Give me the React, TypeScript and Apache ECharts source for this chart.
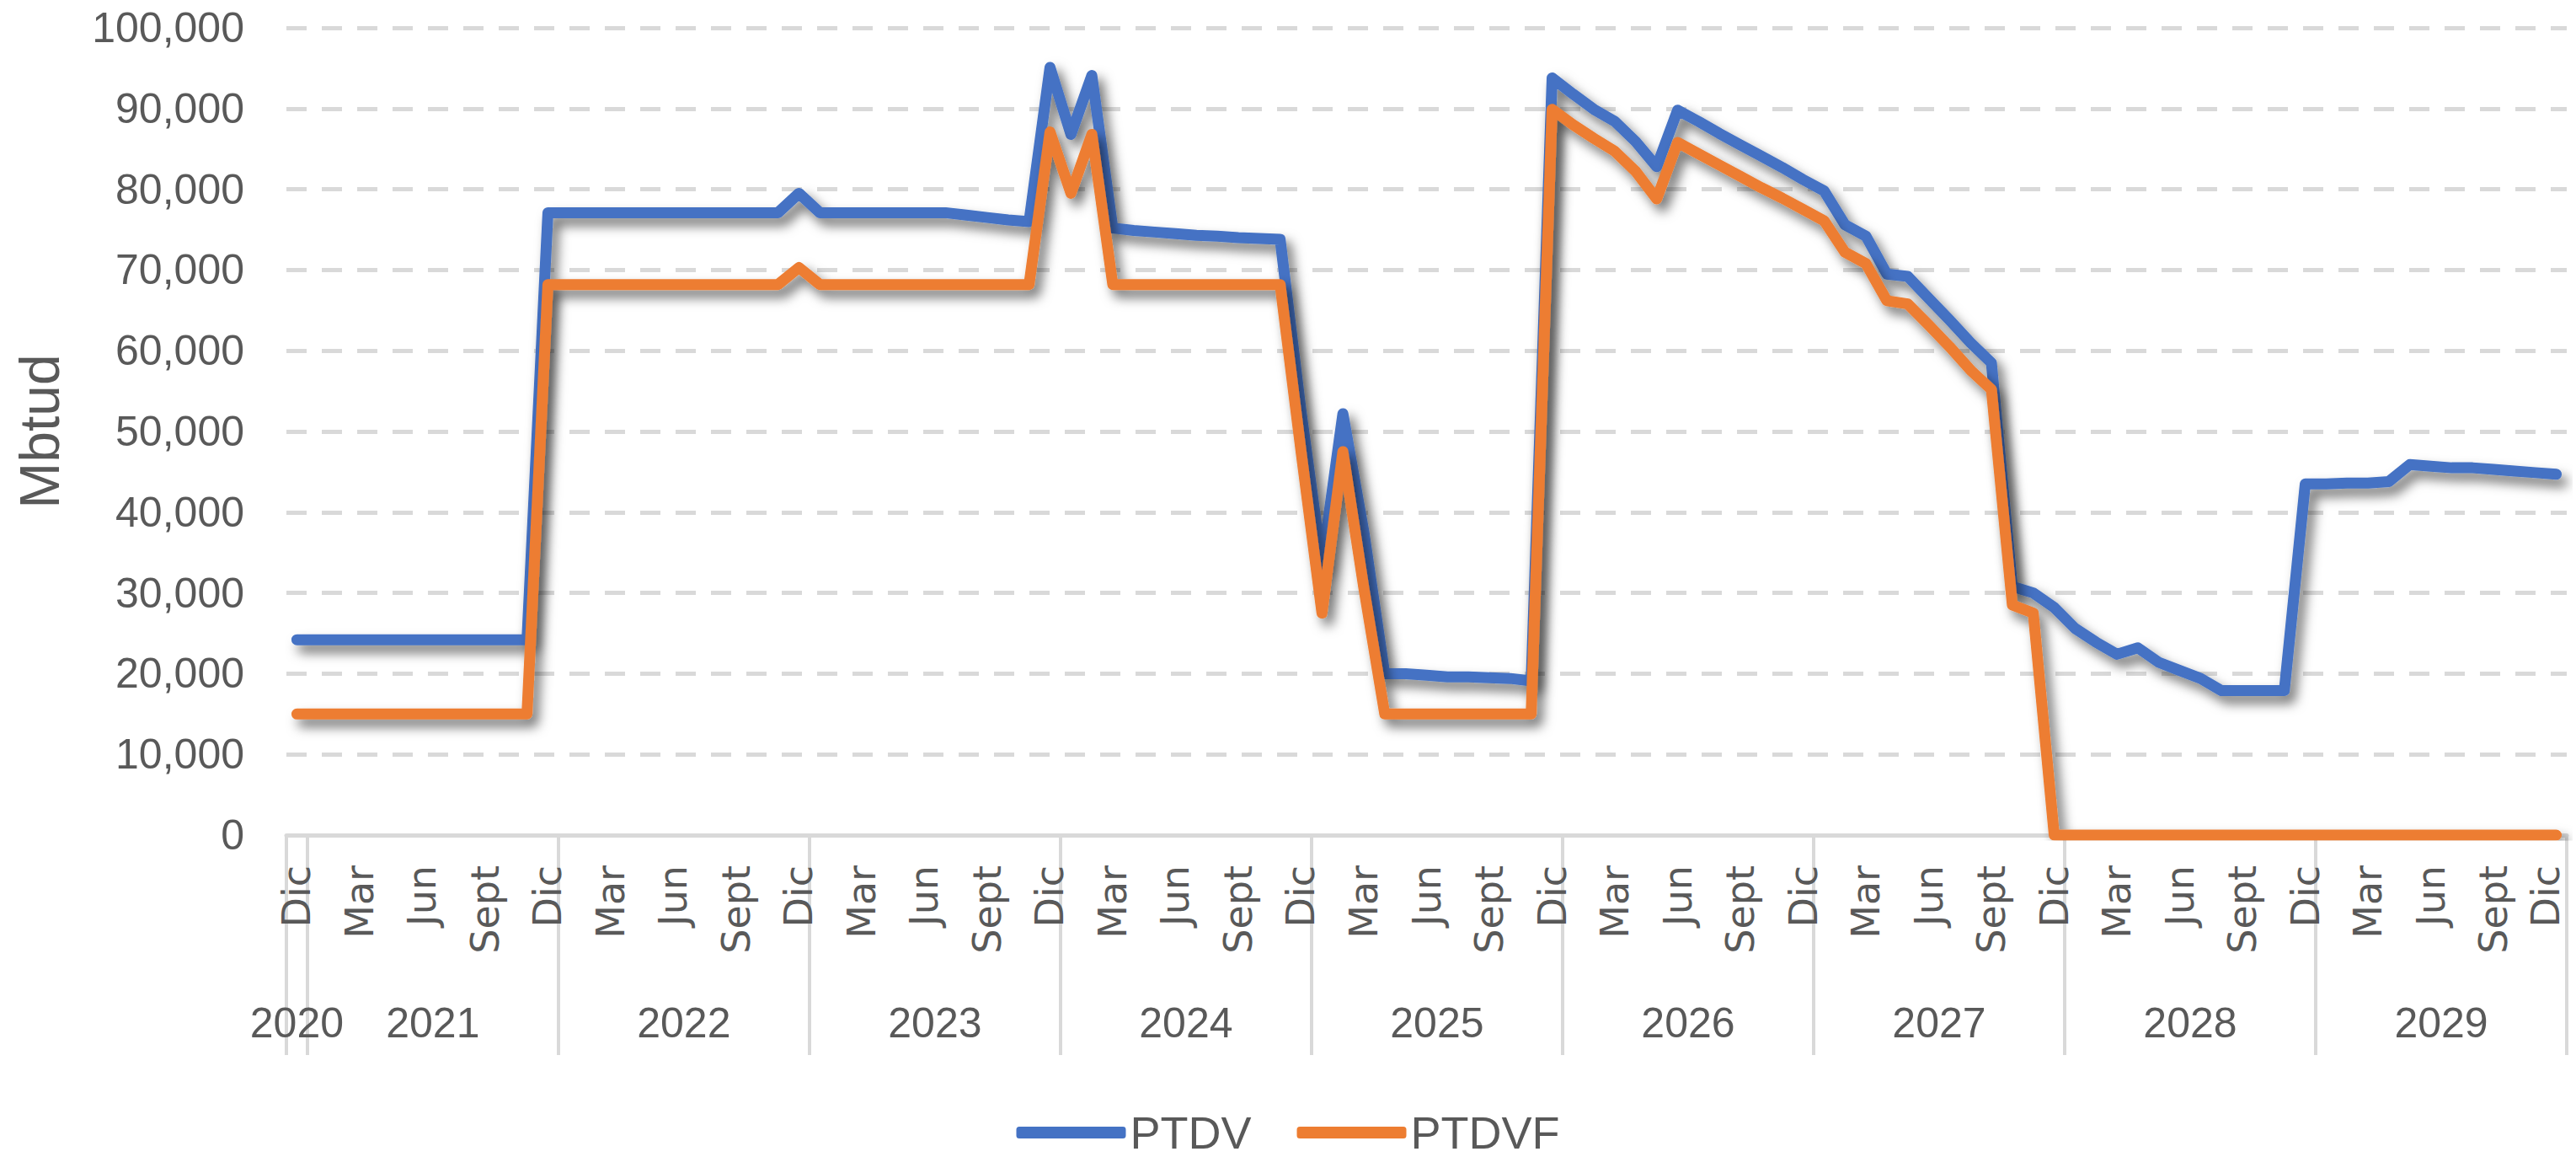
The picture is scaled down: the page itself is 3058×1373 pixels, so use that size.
import React, { useEffect, useRef } from "react";
import * as echarts from "echarts";

const MONTHS = ["Ene", "Feb", "Mar", "Abr", "May", "Jun", "Jul", "Ago", "Sept", "Oct", "Nov", "Dic"];
const START_YEAR = 2020;
const START_MONTH = 11; // Dic
const N_MONTHS = 109;

const categories: string[] = Array.from({ length: N_MONTHS }, (_, i) => {
  const t = START_MONTH + i;
  return `${MONTHS[t % 12]} ${START_YEAR + Math.floor(t / 12)}`;
});

const ptdv: number[] = [
  // Dic 2020 - Nov 2021
  24200, 24200, 24200, 24200, 24200, 24200, 24200, 24200, 24200, 24200, 24200, 24200,
  // Dic 2021 - Nov 2022
  77100, 77100, 77100, 77100, 77100, 77100, 77100, 77100, 77100, 77100, 77100, 77100,
  // Dic 2022 - Nov 2023
  79500, 77100, 77100, 77100, 77100, 77100, 77100, 77100, 76800, 76500, 76200, 76000,
  // Dic 2023 - Nov 2024
  95100, 86800, 94100, 75200, 74900, 74700, 74500, 74300, 74200, 74000, 73900, 73800,
  // Dic 2024 - Nov 2025
  52500, 33500, 52200, 37600, 20000, 20000, 19800, 19600, 19600, 19500, 19400, 19100,
  // Dic 2025 - Nov 2026
  93800, 91800, 89900, 88400, 85900, 82800, 89800, 88400, 86900, 85500, 84100, 82700,
  // Dic 2026 - Nov 2027
  81200, 79800, 75600, 74200, 69500, 69200, 66500, 63800, 61000, 58500, 30800, 30000,
  // Dic 2027 - Nov 2028
  28200, 25600, 23900, 22400, 23200, 21400, 20400, 19400, 17900, 17900, 17900, 17900,
  // Dic 2028 - Dic 2029
  43500, 43500, 43600, 43600, 43800, 45900, 45700, 45500, 45500, 45300, 45100, 44900, 44700,
];

const ptdvf: number[] = [
  15000, 15000, 15000, 15000, 15000, 15000, 15000, 15000, 15000, 15000, 15000, 15000,
  68200, 68200, 68200, 68200, 68200, 68200, 68200, 68200, 68200, 68200, 68200, 68200,
  70300, 68200, 68200, 68200, 68200, 68200, 68200, 68200, 68200, 68200, 68200, 68200,
  87100, 79500, 86800, 68200, 68200, 68200, 68200, 68200, 68200, 68200, 68200, 68200,
  47500, 27500, 47500, 30600, 15000, 15000, 15000, 15000, 15000, 15000, 15000, 15000,
  89900, 88000, 86300, 84700, 82200, 78800, 85800, 84400, 83000, 81600, 80200, 78900,
  77500, 76100, 72200, 70800, 66200, 65800, 63200, 60500, 57600, 55200, 28500, 27500,
  0, 0, 0, 0, 0, 0, 0, 0, 0, 0, 0, 0,
  0, 0, 0, 0, 0, 0, 0, 0, 0, 0, 0, 0, 0,
];

const SERIES_NAMES = ["PTDV", "PTDVF"];
const Y_AXIS_NAME = "Mbtud";

// derived year grouping (from the category data)
const yearOfCat = categories.map((c) => c.split(" ")[1]);
const yearNames: string[] = yearOfCat.filter((y, i) => i === 0 || yearOfCat[i - 1] !== y);
const yearCenters: number[] = yearNames.map((y) => {
  const first = yearOfCat.indexOf(y);
  const last = yearOfCat.lastIndexOf(y);
  return (first + last) / 2;
});
const yearBounds: number[] = [-0.5];
for (let i = 0; i < N_MONTHS - 1; i++) {
  if (yearOfCat[i] !== yearOfCat[i + 1]) yearBounds.push(i + 0.5);
}
yearBounds.push(N_MONTHS - 0.5);

const GRAY_TEXT = "#595959";
const GRID_GRAY = "#D9D9D9";
const SANS = "'Liberation Sans', Arial, sans-serif";
const MONTH_FONT = "'DejaVu Sans', sans-serif";

export default function App() {
  const ref = useRef<HTMLDivElement>(null);
  useEffect(() => {
    if (!ref.current) return;
    const chart = echarts.init(ref.current, undefined, { renderer: "svg" });
    const lineShadow = {
      shadowColor: "rgba(0,0,0,0.55)",
      shadowBlur: 14,
      shadowOffsetX: 7,
      shadowOffsetY: 9,
    };
    chart.setOption({
      animation: false,
      backgroundColor: "#ffffff",
      grid: {
        left: 340,
        right: 11,
        top: 33,
        bottom: 382,
        containLabel: false,
        outerBoundsMode: "none",
      },
      legend: {
        data: SERIES_NAMES,
        left: "center",
        top: 1312,
        itemWidth: 130,
        itemHeight: 14,
        itemGap: 54,
        icon: "roundRect",
        textStyle: { fontSize: 54, color: GRAY_TEXT, fontFamily: SANS },
      },
      xAxis: [
        {
          type: "category",
          data: categories,
          boundaryGap: true,
          axisLine: { show: true, lineStyle: { color: GRID_GRAY, width: 5 } },
          axisTick: { show: false },
          splitLine: { show: false },
          axisLabel: {
            interval: (index: number) => index % 3 === 0,
            rotate: 90,
            margin: 36,
            fontSize: 46,
            lineHeight: 40,
            color: GRAY_TEXT,
            fontFamily: MONTH_FONT,
            formatter: (v: string, index: number) => {
              const m = v.split(" ")[0];
              return index === N_MONTHS - 1 ? `{edge|${m}}` : m;
            },
            rich: {
              edge: {
                fontSize: 46,
                lineHeight: 40,
                color: GRAY_TEXT,
                fontFamily: MONTH_FONT,
                padding: [0, 0, 26, 0],
              },
            },
          },
        },
        {
          type: "value",
          position: "bottom",
          min: -0.5,
          max: N_MONTHS - 0.5,
          axisLine: { show: false },
          splitLine: { show: false },
          axisTick: {
            show: true,
            customValues: yearBounds,
            length: 261,
            lineStyle: { color: GRID_GRAY, width: 4 },
          },
          axisLabel: {
            customValues: yearCenters,
            margin: 198,
            fontSize: 50,
            color: GRAY_TEXT,
            fontFamily: SANS,
            formatter: (v: number) => {
              const k = yearCenters.findIndex((c) => Math.abs(c - v) < 0.01);
              return k >= 0 ? yearNames[k] : "";
            },
          },
        },
      ],
      yAxis: {
        type: "value",
        min: 0,
        max: 100000,
        interval: 10000,
        name: Y_AXIS_NAME,
        nameLocation: "middle",
        nameGap: 260,
        nameTextStyle: { fontSize: 66, color: GRAY_TEXT, fontFamily: SANS },
        axisLine: { show: false },
        axisTick: { show: false },
        axisLabel: {
          margin: 50,
          fontSize: 50,
          color: GRAY_TEXT,
          fontFamily: SANS,
          formatter: (v: number) => v.toLocaleString("en-US"),
        },
        splitLine: {
          show: true,
          lineStyle: { color: GRID_GRAY, width: 5, type: [24, 18] },
        },
      },
      series: [
        {
          name: SERIES_NAMES[0],
          type: "line",
          xAxisIndex: 0,
          data: ptdv,
          symbol: "none",
          showSymbol: false,
          color: "#4472C4",
          lineStyle: { width: 13, color: "#4472C4", cap: "round", join: "round", ...lineShadow },
        },
        {
          name: SERIES_NAMES[1],
          type: "line",
          xAxisIndex: 0,
          data: ptdvf,
          symbol: "none",
          showSymbol: false,
          color: "#ED7D31",
          lineStyle: { width: 13, color: "#ED7D31", cap: "round", join: "round", ...lineShadow },
        },
      ],
    });
    return () => chart.dispose();
  }, []);
  return (
    <div
      ref={ref}
      style={{ position: "fixed", left: 0, top: 0, width: 3058, height: 1373, background: "#fff" }}
    />
  );
}
